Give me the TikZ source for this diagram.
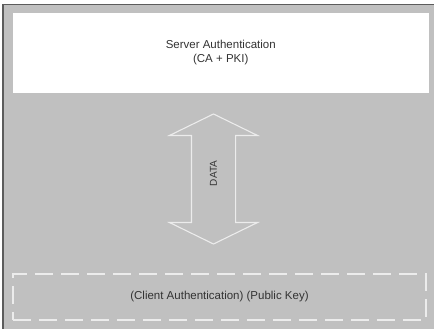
\documentclass[tikz,border=0pt]{standalone}
\usepackage{fontspec}
\setmainfont{Liberation Sans}
\usetikzlibrary{shapes.arrows}

\definecolor{panelgray}{HTML}{C0C0C0}
\definecolor{edgegray}{HTML}{5C5C5C}
\definecolor{textgray}{HTML}{333333}
\definecolor{linewhite}{HTML}{ECECEC}

\begin{document}
\begin{tikzpicture}[x=1pt,y=-1pt]

\tikzset{
  label font/.style={font=\fontsize{11.5}{14}\selectfont, text=textgray},
  server box/.style={label font, fill=white, draw=none, align=center,
    minimum width=415.5pt, minimum height=80pt, inner sep=0pt},
  client box/.style={label font, draw=linewhite, line width=1.3pt,
    dash pattern=on 18pt off 8pt, minimum width=413pt, minimum height=46pt,
    inner sep=0pt},
  data arrow/.style={double arrow, draw=linewhite, line width=1.1pt,
    rotate=90, minimum height=130pt, minimum width=87pt,
    inner xsep=0pt, inner ysep=21.5pt,
    double arrow head extend=22pt, double arrow tip angle=128},
  data text/.style={font=\fontsize{10}{12}\selectfont, text=textgray,
    rotate=90, inner sep=0pt}
}

\useasboundingbox (0,0) rectangle (434,329);

% panel with dark top and left edge
\fill[panelgray] (2,4) rectangle (434,329);
\draw[edgegray, line width=1.5pt] (2.75,329) |- (434,4.75);

\node[server box] (server) at (220.75,53) {Server Authentication\\(CA + PKI)};

\node[data arrow] (data) at (213.5,179) {};
\node[data text] (datalabel) at ([yshift=5.5pt]data.center) {DATA};

\node[client box] (client) at (219.5,297) {(Client Authentication) (Public Key)};

\end{tikzpicture}
\end{document}
